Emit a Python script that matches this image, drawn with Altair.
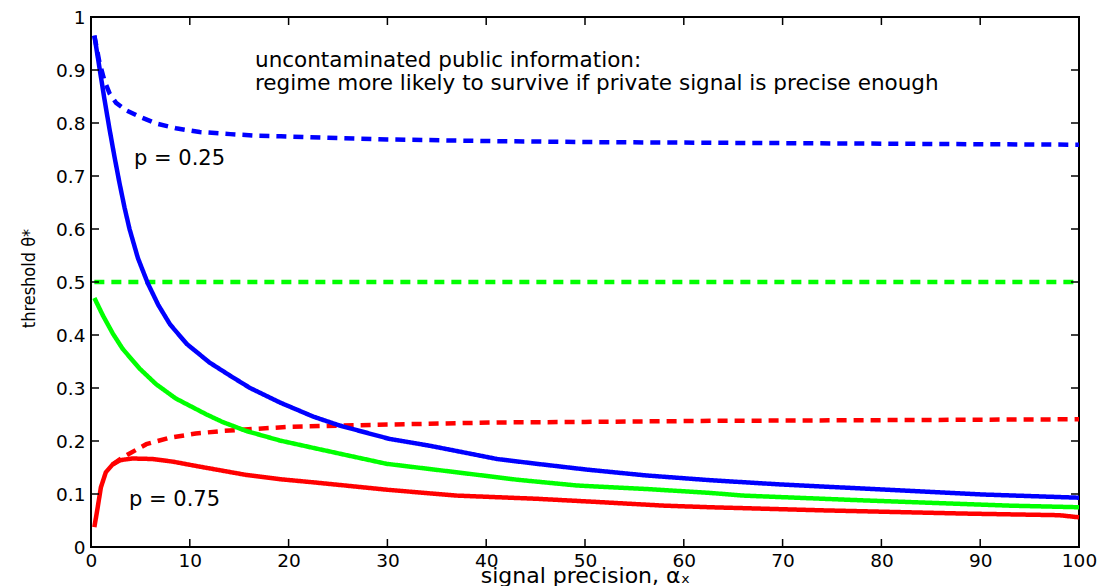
import altair as alt
import pandas as pd

# ---------------- data ----------------
blue_solid_x = [0.34, 0.85, 1.36, 1.86, 2.37, 2.88, 3.4, 3.9, 4.75, 5.76, 6.8, 8.0, 9.7, 12.0, 14.1,
                16.1, 19.2, 22.5, 25.2, 30.2, 34.3, 38.4, 41.1, 45.1, 50.2, 56.2, 62.7, 69.8, 78.5, 90.3, 100]
blue_solid_y = [0.965, 0.905, 0.845, 0.790, 0.737, 0.687, 0.640, 0.600, 0.545, 0.497, 0.457, 0.420, 0.383,
                0.348, 0.323, 0.300, 0.272, 0.246, 0.229, 0.204, 0.191, 0.176, 0.166, 0.157, 0.146, 0.135,
                0.126, 0.118, 0.110, 0.099, 0.093]

blue_dash_x = [0.34, 0.85, 1.36, 1.9, 2.54, 3.56, 4.9, 6.6, 8.6, 11.0, 14.1, 16.8, 19.2, 24, 30, 40, 50,
               60, 70, 80, 90, 100]
blue_dash_y = [0.965, 0.915, 0.880, 0.855, 0.838, 0.824, 0.812, 0.799, 0.790, 0.783, 0.779, 0.776, 0.775,
               0.772, 0.769, 0.766, 0.764, 0.763, 0.762, 0.761, 0.760, 0.759]

green_solid_x = [0.34, 1.2, 2.2, 3.2, 4.9, 6.6, 8.6, 11.7, 13.3, 15.7, 19.1, 22.5, 25.2, 29.9, 37, 43.1,
                 49.2, 56.6, 62.7, 66, 78.1, 93, 100]
green_solid_y = [0.470, 0.437, 0.403, 0.374, 0.337, 0.307, 0.280, 0.250, 0.236, 0.219, 0.201, 0.187, 0.176,
                 0.157, 0.141, 0.127, 0.116, 0.109, 0.102, 0.097, 0.088, 0.078, 0.075]

green_dash_x = [0.34, 100]
green_dash_y = [0.5, 0.5]

red_solid_x = [0.34, 0.68, 1.0, 1.5, 2.2, 3.0, 4.2, 6.25, 8.3, 10.6, 13.3, 15.7, 19.1, 22.5, 25.2, 30, 37,
               45.1, 51.2, 58, 62.7, 74.4, 88.6, 98, 100]
red_solid_y = [0.0375, 0.075, 0.1125, 0.141, 0.156, 0.164, 0.167, 0.166, 0.161, 0.153, 0.144, 0.136, 0.128,
               0.122, 0.117, 0.108, 0.097, 0.091, 0.085, 0.078, 0.075, 0.069, 0.063, 0.060, 0.056]

red_dash_x = [2.2, 3.2, 5.6, 7.9, 10.6, 13.3, 16.7, 20.4, 25.2, 30, 41.1, 50, 62.7, 75, 88, 100]
red_dash_y = [0.156, 0.169, 0.194, 0.206, 0.214, 0.219, 0.223, 0.227, 0.229, 0.231, 0.235, 0.236, 0.238,
              0.239, 0.240, 0.241]

p_levels = ["0.25", "0.5", "0.75"]
p_colors = ["#0000ff", "#00ff00", "#ff0000"]
info_kinds = ["contaminated", "uncontaminated"]

x_ticks = [0, 10, 20, 30, 40, 50, 60, 70, 80, 90, 100]
y_ticks = [0, 0.1, 0.2, 0.3, 0.4, 0.5, 0.6, 0.7, 0.8, 0.9, 1]

note_lines = ["uncontaminated public information:",
              "regime more likely to survive if private signal is precise enough"]
p_labels = ["p = 0.25", "p = 0.75"]

x_title = "signal precision, \u03b1\u2093"
y_title = "threshold \u03b8*"

# ---------------- table ----------------
rows = []
def add(p, info, xs, ys):
    for xv, yv in zip(xs, ys):
        rows.append({"x": xv, "y": yv, "p": p, "info": info, "series": p + " " + info})

add("0.25", "uncontaminated", blue_dash_x, blue_dash_y)
add("0.5", "uncontaminated", green_dash_x, green_dash_y)
add("0.75", "uncontaminated", red_dash_x, red_dash_y)
add("0.25", "contaminated", blue_solid_x, blue_solid_y)
add("0.5", "contaminated", green_solid_x, green_solid_y)
add("0.75", "contaminated", red_solid_x, red_solid_y)
df = pd.DataFrame(rows)

W, H = 988, 530
TICK = 8
FONT = "DejaVu Sans"
NARROW = "DejaVu Sans Condensed, Liberation Sans Narrow, Liberation Sans"

xscale = alt.Scale(domain=[0, 100], nice=False, zero=False)
yscale = alt.Scale(domain=[0, 1], nice=False, zero=False)

xaxis = alt.Axis(values=x_ticks, ticks=False, grid=False, domain=False, labelFont=FONT, labelFontSize=18.5,
                 labelColor="black", labelPadding=4, title=x_title, titleFont=FONT, titleFontSize=22,
                 titleFontWeight="normal", titleColor="black", titleBaseline="alphabetic", titleY=35,
                 labelFlush=False)
yaxis = alt.Axis(values=y_ticks, ticks=False, grid=False, domain=False, labelFont=FONT, labelFontSize=18.5,
                 labelColor="black", labelPadding=6, format=".1~f", title=y_title,
                 titleFont=NARROW, titleFontSize=18, titleFontWeight="normal",
                 titleColor="black", titleBaseline="alphabetic", titleX=-57, titleY=261, titleAngle=270,
                 titleAlign="center", labelFlush=False)

lines = alt.Chart(df).mark_line(strokeWidth=4.5, strokeCap="butt").encode(
    x=alt.X("x:Q", scale=xscale, axis=xaxis),
    y=alt.Y("y:Q", scale=yscale, axis=yaxis),
    color=alt.Color("p:N", scale=alt.Scale(domain=p_levels, range=p_colors), legend=None),
    strokeDash=alt.StrokeDash("info:N", scale=alt.Scale(domain=info_kinds, range=[[1, 0], [10, 7]]),
                              legend=None),
    detail="series:N",
)

xt = pd.DataFrame({"x": x_ticks})
yt = pd.DataFrame({"y": y_ticks})
tick_bottom = alt.Chart(xt).mark_rule(color="black", strokeWidth=1.5).encode(
    x=alt.X("x:Q", scale=xscale), y=alt.value(H), y2=alt.value(H - TICK))
tick_top = alt.Chart(xt).mark_rule(color="black", strokeWidth=1.5).encode(
    x=alt.X("x:Q", scale=xscale), y=alt.value(0), y2=alt.value(TICK))
tick_left = alt.Chart(yt).mark_rule(color="black", strokeWidth=1.5).encode(
    y=alt.Y("y:Q", scale=yscale), x=alt.value(0), x2=alt.value(TICK))
tick_right = alt.Chart(yt).mark_rule(color="black", strokeWidth=1.5).encode(
    y=alt.Y("y:Q", scale=yscale), x=alt.value(W), x2=alt.value(W - TICK))

def label(text, px, py, size):
    return alt.Chart(pd.DataFrame({"t": [text]})).mark_text(
        font=FONT, fontSize=size, color="black", align="left", baseline="alphabetic").encode(
        text="t:N", x=alt.value(px), y=alt.value(py))

texts = [
    label(note_lines[0], 164, 50, 21.5),
    label(note_lines[1], 164, 73, 21.5),
    label(p_labels[0], 43, 148, 21),
    label(p_labels[1], 38, 489, 21),
]

chart = alt.layer(lines, tick_bottom, tick_top, tick_left, tick_right, *texts).properties(
    width=W, height=H,
    autosize=alt.AutoSizeParams(type="none"),
    padding={"left": 83, "top": 9, "right": 18, "bottom": 39},
    background="white",
).configure_view(stroke="black", strokeWidth=2)

chart.save("out.html", embed_options={"renderer": "svg", "actions": False})
